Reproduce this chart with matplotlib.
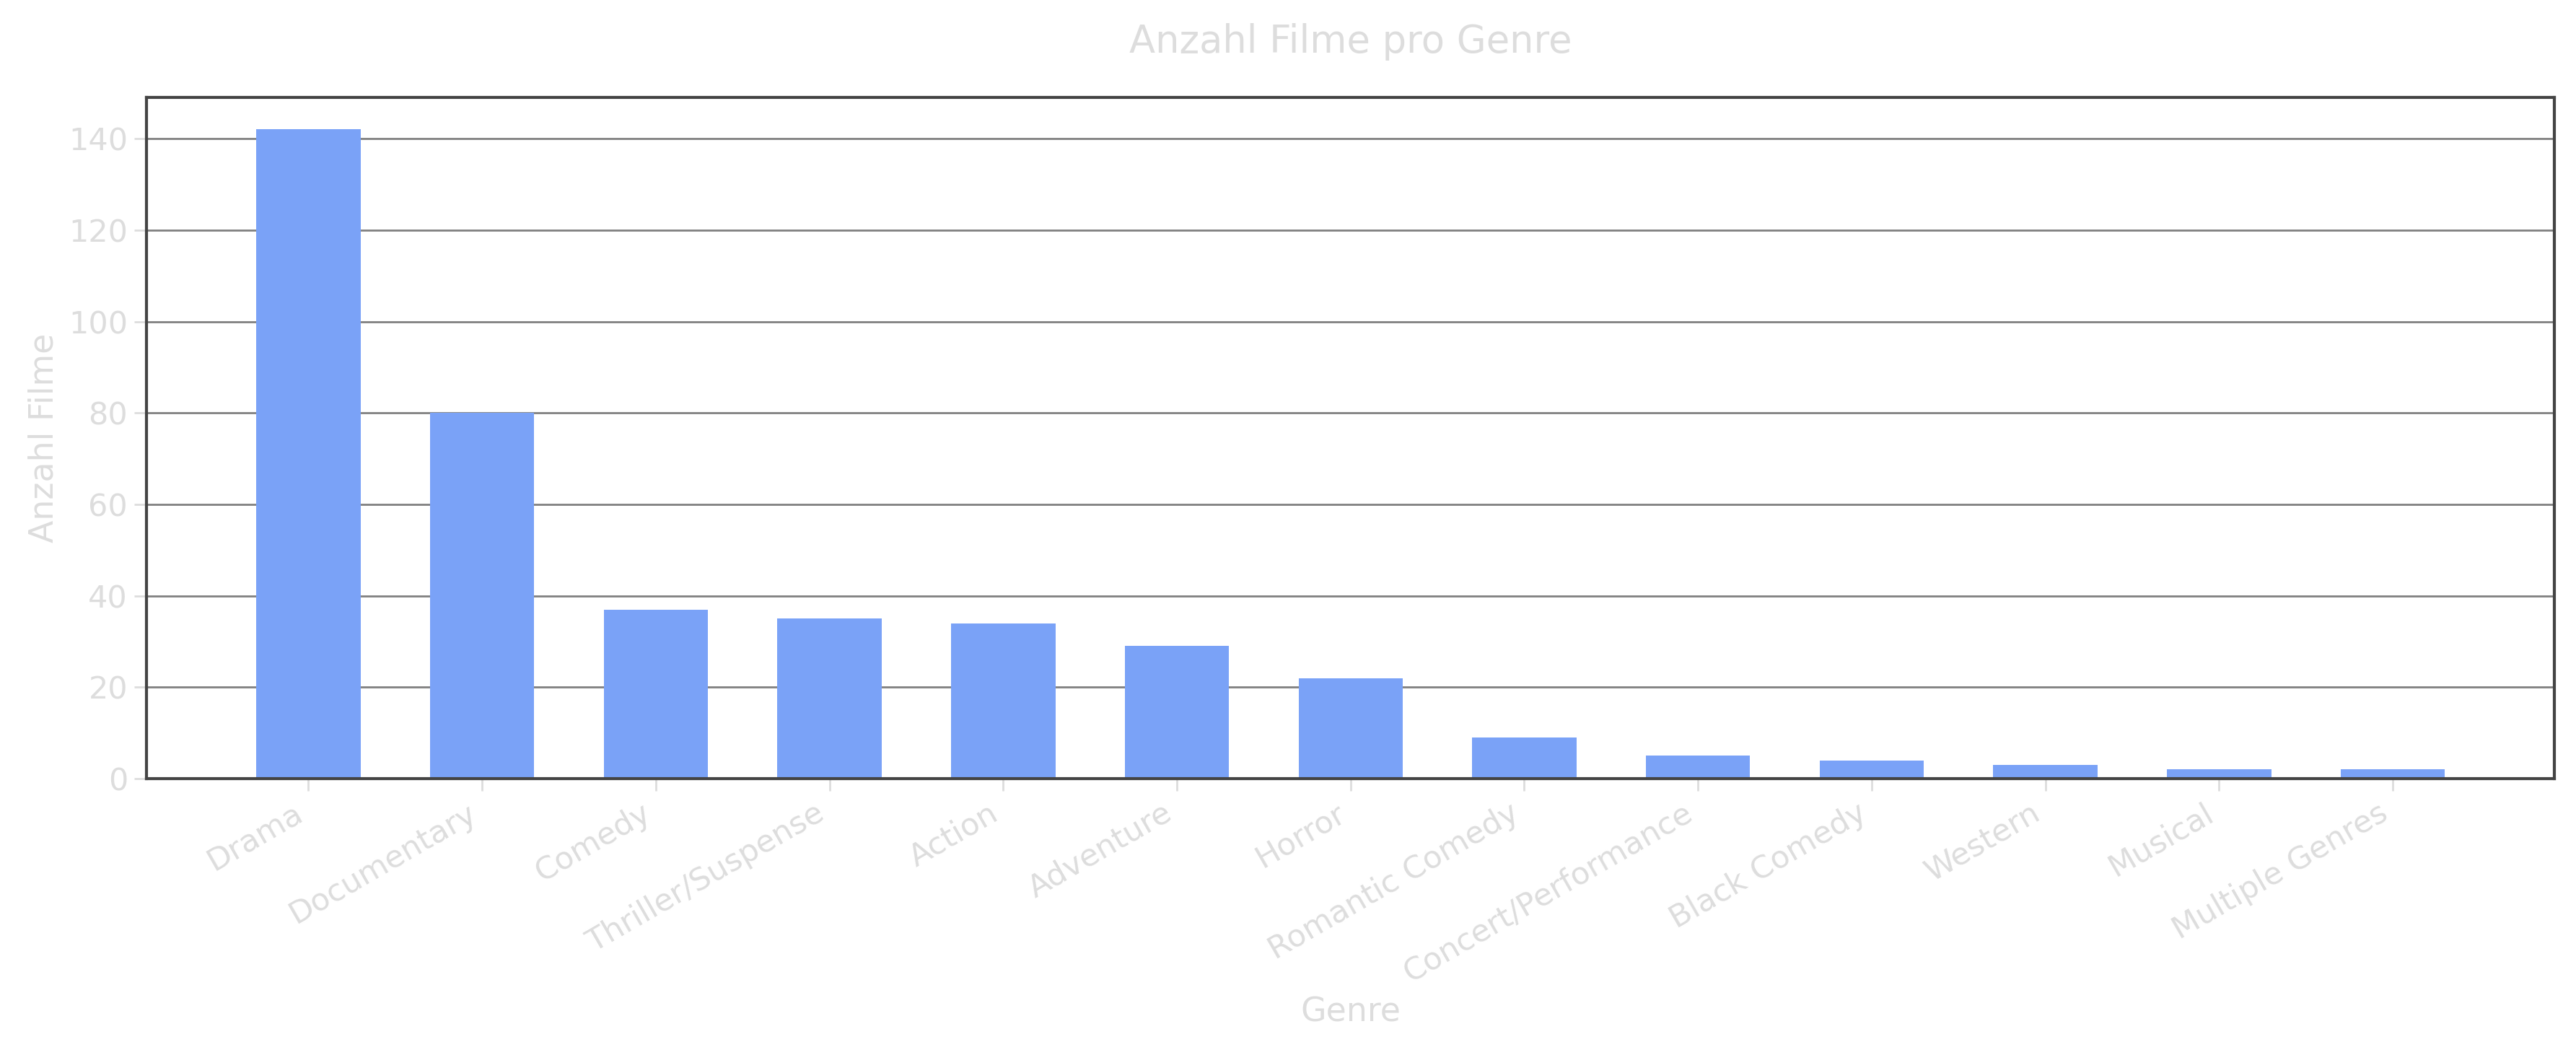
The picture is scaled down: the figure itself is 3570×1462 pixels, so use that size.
import matplotlib
matplotlib.use('Agg')
import matplotlib.pyplot as plt

genres = ['Drama', 'Documentary', 'Comedy', 'Thriller/Suspense', 'Action', 'Adventure',
          'Horror', 'Romantic Comedy', 'Concert/Performance', 'Black Comedy', 'Western',
          'Musical', 'Multiple Genres']
counts = [142, 80, 37, 35, 34, 29, 22, 9, 5, 4, 3, 2, 2]

TEXT = '#dddddd'
BAR = '#7aa2f7'

fig = plt.figure(figsize=(17.85, 7.31), dpi=200)
ax = fig.add_axes([0.057, 0.262, 0.9346, 0.646])

ax.set_axisbelow(True)
ax.bar(range(len(genres)), counts, width=0.6, color=BAR)
ax.yaxis.grid(True, color='#808080', linewidth=1.0)

ax.set_xticks(range(len(genres)))
ax.set_xticklabels(genres, rotation=30, ha='right')
ax.tick_params(axis='both', colors=TEXT, labelsize=15.5, length=6, width=1)
for s in ax.spines.values():
    s.set_color('#444444')
    s.set_linewidth(1.5)

ax.set_title('Anzahl Filme pro Genre', color=TEXT, fontsize=19, pad=22)
ax.set_xlabel('Genre', color=TEXT, fontsize=16.5)
ax.set_ylabel('Anzahl Filme', color=TEXT, fontsize=16.5)

fig.savefig('out.png', dpi=200, facecolor='white')
